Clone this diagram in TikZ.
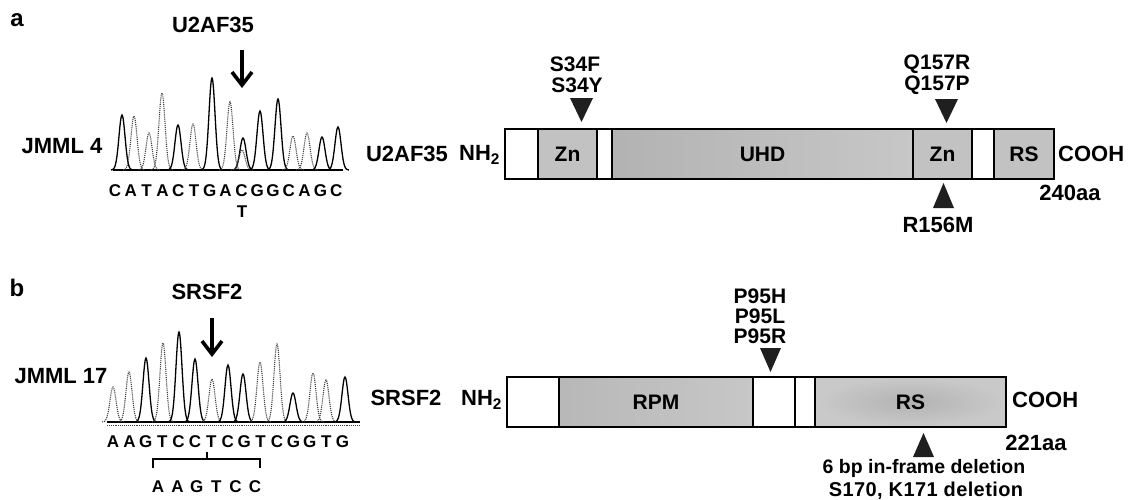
\documentclass[tikz,border=0pt]{standalone}
\usepackage{fontspec}
\setmainfont{Liberation Sans}
\usetikzlibrary{arrows.meta}
\tikzset{
  lbl/.style={font=\fontsize{22}{24}\selectfont\bfseries, inner sep=0pt},
  mutlbl/.style={font=\fontsize{21}{23}\selectfont\bfseries, inner sep=0pt},
  panel/.style={font=\fontsize{24}{26}\selectfont\bfseries, inner sep=0pt},
  basech/.style={font=\fontsize{17}{19}\selectfont\bfseries, inner sep=0pt},
  dom/.style={draw, line width=1.8pt, minimum height=50pt, inner sep=0pt, font=\fontsize{21}{23}\selectfont\bfseries},
  graydom/.style={dom, fill=black!24},
  mut/.style={fill=black!88},
  seqarrow/.style={line width=3.6pt, -{Straight Barb[length=13pt,width=20pt]}},
  trace/.style={line width=1.3pt},
  tracedot/.style={line width=1.1pt, densely dotted, black!75},
  brk/.style={line width=1.5pt},
}
\newcommand\protdom[6]{\node[#5, minimum width={(#3-#2)*1pt}] (#1) at ({(#2+#3)/2},#4) {#6};}
\newcommand\pk[4]{\draw[#4] plot[domain=-11:11,samples=31,smooth] ({#1+\x},{#3-(#3-#2)*exp(-(\x/4.3)^2)});}
\begin{document}
\begin{tikzpicture}[x=1pt,y=-1pt]
\useasboundingbox (0,0) rectangle (1128,499);
\fill[white] (0,0) rectangle (1128,499);

% ---------------- panel a ----------------
\node[panel] (pa) at (17,20) {a};
\node[lbl] (geneA) at (213,25) {U2AF35};
\coordinate (arA1) at (242,50);
\coordinate (arA2) at (242,88);
\draw[seqarrow] (arA1) -- (arA2);
\node[lbl] (jmml4) at (62,146) {JMML 4};

% chromatogram a
\draw[trace] (113,170) -- (343,170);
\pk{122}{115}{170}{trace}
\pk{134}{116}{170}{tracedot}
\pk{149}{133}{170}{tracedot}
\pk{162}{93}{170}{tracedot}
\pk{178}{125}{170}{trace}
\pk{193}{124}{170}{tracedot}
\pk{212}{78}{170}{trace}
\pk{230}{102}{170}{tracedot}
\pk{243}{138}{170}{trace}
\pk{242}{150}{170}{tracedot}
\pk{260}{111}{170}{trace}
\pk{278}{99}{170}{trace}
\pk{293}{136}{170}{tracedot}
\pk{307}{133}{170}{tracedot}
\pk{322}{137}{170}{trace}
\pk{338}{127}{170}{trace}

\foreach \c [count=\i from 0] in {C,A,T,A,C,T,G,A,C,G,G,C,A,G,C}
  \node[basech] (sa\i) at ({115+15.8*\i},191) {\c};
\node[basech] (mutA) at (242,212) {T};

% protein a
\node[lbl] (protA) at (407,154) {U2AF35};
\node[lbl, anchor=west] (nhA) at (459,155) {NH\textsubscript{2}};
\protdom{a0}{505}{538}{154}{dom}{}
\protdom{a1}{538}{597}{154}{graydom}{Zn}
\protdom{a2}{597}{612}{154}{dom}{}
\node[dom, minimum width=301pt, left color=black!30, right color=black!22] (a3) at (762.5,154) {UHD};
\protdom{a4}{913}{972}{154}{graydom}{Zn}
\protdom{a5}{972}{994}{154}{dom}{}
\protdom{a6}{994}{1054}{154}{graydom}{RS}
\node[lbl, anchor=west] (coohA) at (1058,154) {COOH};
\node[lbl] (lenA) at (1070,193) {240aa};

\node[mutlbl] (s34f) at (575,64) {S34F};
\node[mutlbl] (s34y) at (577,85) {S34Y};
\fill[mut] (570,98) -- (593,98) -- (581.5,122) -- cycle;
\node[mutlbl] (q157r) at (937,64) {Q157R};
\node[mutlbl] (q157p) at (937,85) {Q157P};
\fill[mut] (935,99) -- (958,99) -- (946.5,123) -- cycle;
\fill[mut] (933,208) -- (954,208) -- (943.5,183) -- cycle;
\node[lbl] (r156m) at (938,225) {R156M};

% ---------------- panel b ----------------
\node[panel] (pb) at (17,288) {b};
\node[lbl] (geneB) at (207,292) {SRSF2};
\coordinate (arB1) at (212,318);
\coordinate (arB2) at (212,357);
\draw[seqarrow] (arB1) -- (arB2);
\node[lbl] (jmml17) at (61,376) {JMML 17};

% chromatogram b
\draw[trace, line width=1.7pt] (107,422) -- (360,422);
\draw[tracedot] (107,425.5) -- (360,425.5);
\pk{113}{387}{422}{tracedot}
\pk{129}{372}{422}{tracedot}
\pk{146}{358}{422}{trace}
\pk{163}{343}{422}{tracedot}
\pk{179}{332}{422}{trace}
\pk{195}{359}{422}{trace}
\pk{212}{379}{422}{tracedot}
\pk{228}{365}{422}{trace}
\pk{243}{374}{422}{trace}
\pk{260}{362}{422}{tracedot}
\pk{277}{344}{422}{tracedot}
\pk{293}{393}{422}{trace}
\pk{313}{373}{422}{tracedot}
\pk{326}{380}{422}{tracedot}
\pk{345}{377}{422}{trace}

\foreach \c [count=\i from 0] in {A,A,G,T,C,C,T,C,G,T,C,G,G,T,G}
  \node[basech] (sb\i) at ({113+16.4*\i},442) {\c};

% bracket
\coordinate (bkL) at (153,468);
\coordinate (bkL2) at (153,459);
\coordinate (bkR2) at (260,459);
\coordinate (bkR) at (260,468);
\coordinate (bkM) at (207,459);
\coordinate (bkT) at (207,452);
\draw[brk] (bkL) -- (bkL2) -- (bkR2) -- (bkR);
\draw[brk] (bkM) -- (bkT);
\foreach \c [count=\i from 0] in {A,A,G,T,C,C}
  \node[basech] (sd\i) at ({158+19.4*\i},487) {\c};

% protein b
\node[lbl] (protB) at (406,398) {SRSF2};
\node[lbl, anchor=west] (nhB) at (461,400) {NH\textsubscript{2}};
\protdom{b0}{507}{559}{402}{dom}{}
\node[dom, minimum width=194pt, left color=black!28, right color=black!22] (b1) at (656,402) {RPM};
\protdom{b2}{753}{795}{402}{dom}{}
\protdom{b3}{795}{815}{402}{dom}{}
\node[dom, minimum width=191pt, inner color=black!30, outer color=black!21] (b4) at (910.5,402) {RS};
\node[lbl, anchor=west] (coohB) at (1012,400) {COOH};
\node[lbl] (lenB) at (1036,443) {221aa};

\node[mutlbl] (p95h) at (760,296) {P95H};
\node[mutlbl] (p95l) at (760,316) {P95L};
\node[mutlbl] (p95r) at (760,336) {P95R};
\fill[mut] (760,348) -- (781,348) -- (770.5,372) -- cycle;
\fill[mut] (913,457) -- (934,457) -- (923.5,433) -- cycle;
\node[lbl, font=\fontsize{19.5}{21}\selectfont\bfseries] (del1) at (924,468) {6 bp in-frame deletion};
\node[lbl, font=\fontsize{20}{22}\selectfont] (del2) at (926,491) {\addfontfeatures{LetterSpace=2}\bfseries S170, K171 deletion};
\end{tikzpicture}
\end{document}
